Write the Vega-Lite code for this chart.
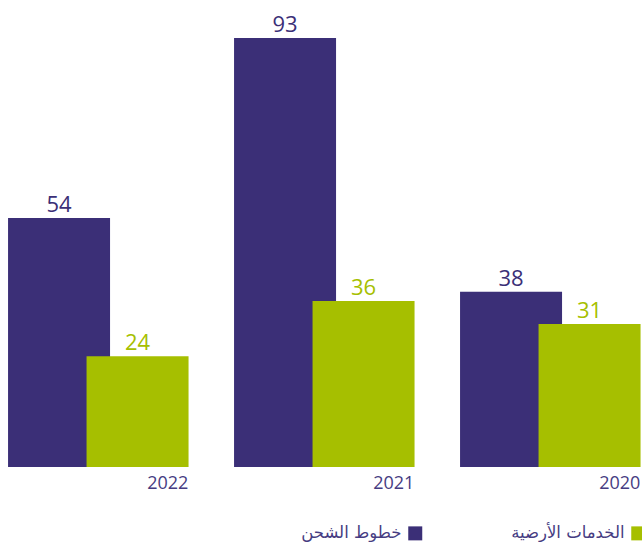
{
  "$schema": "https://vega.github.io/schema/vega-lite/v6.json",
  "width": 642,
  "height": 467,
  "autosize": {"type": "none"},
  "padding": {"left": 0, "top": 0, "right": 0, "bottom": 75},
  "config": {"view": {"stroke": null}, "font": "Open Sans, DejaVu Sans"},
  "data": {"values": [
    {"year": "2022", "series": "خطوط الشحن", "value": 54},
    {"year": "2021", "series": "خطوط الشحن", "value": 93},
    {"year": "2020", "series": "خطوط الشحن", "value": 38},
    {"year": "2022", "series": "الخدمات الأرضية", "value": 24},
    {"year": "2021", "series": "الخدمات الأرضية", "value": 36},
    {"year": "2020", "series": "الخدمات الأرضية", "value": 31}
  ]},
  "encoding": {
    "x": {
      "field": "year", "type": "nominal", "sort": ["2022", "2021", "2020"],
      "scale": {"paddingInner": 0.3053, "paddingOuter": 0.073, "align": 0.6},
      "axis": {"title": null, "domain": false, "ticks": false, "grid": false, "labelAngle": 0, "labelAlign": "right", "labelOffset": 90, "labelPadding": 7, "labelFontSize": 18, "labelColor": "#463c82", "labelFont": "Open Sans"}
    },
    "xOffset": {"field": "series", "type": "nominal", "sort": ["خطوط الشحن", "الخدمات الأرضية"], "scale": {"paddingInner": 0, "paddingOuter": 0}},
    "y": {"field": "value", "type": "quantitative", "scale": {"domain": [0, 101.24], "nice": false, "zero": true}, "axis": null},
    "color": {
      "field": "series", "type": "nominal",
      "scale": {"domain": ["خطوط الشحن", "الخدمات الأرضية"], "range": ["#3b2f77", "#a6bf00"]},
      "legend": {"title": null, "orient": "none", "legendX": 407, "legendY": 525, "direction": "horizontal", "symbolType": "square", "symbolSize": 196, "symbolStrokeWidth": 0, "symbolOpacity": 1, "labelFontSize": 16.5, "labelColor": "#463c82", "labelFont": "DejaVu Sans", "labelAlign": "right", "labelOffset": -22, "labelLimit": 300, "columnPadding": 88}
    }
  },
  "layer": [
    {"mark": {"type": "bar", "width": 102}},
    {"mark": {"type": "text", "dy": -6, "baseline": "alphabetic", "fontSize": 22, "font": "Open Sans"},
     "encoding": {"text": {"field": "value", "type": "quantitative"}}}
  ]
}
